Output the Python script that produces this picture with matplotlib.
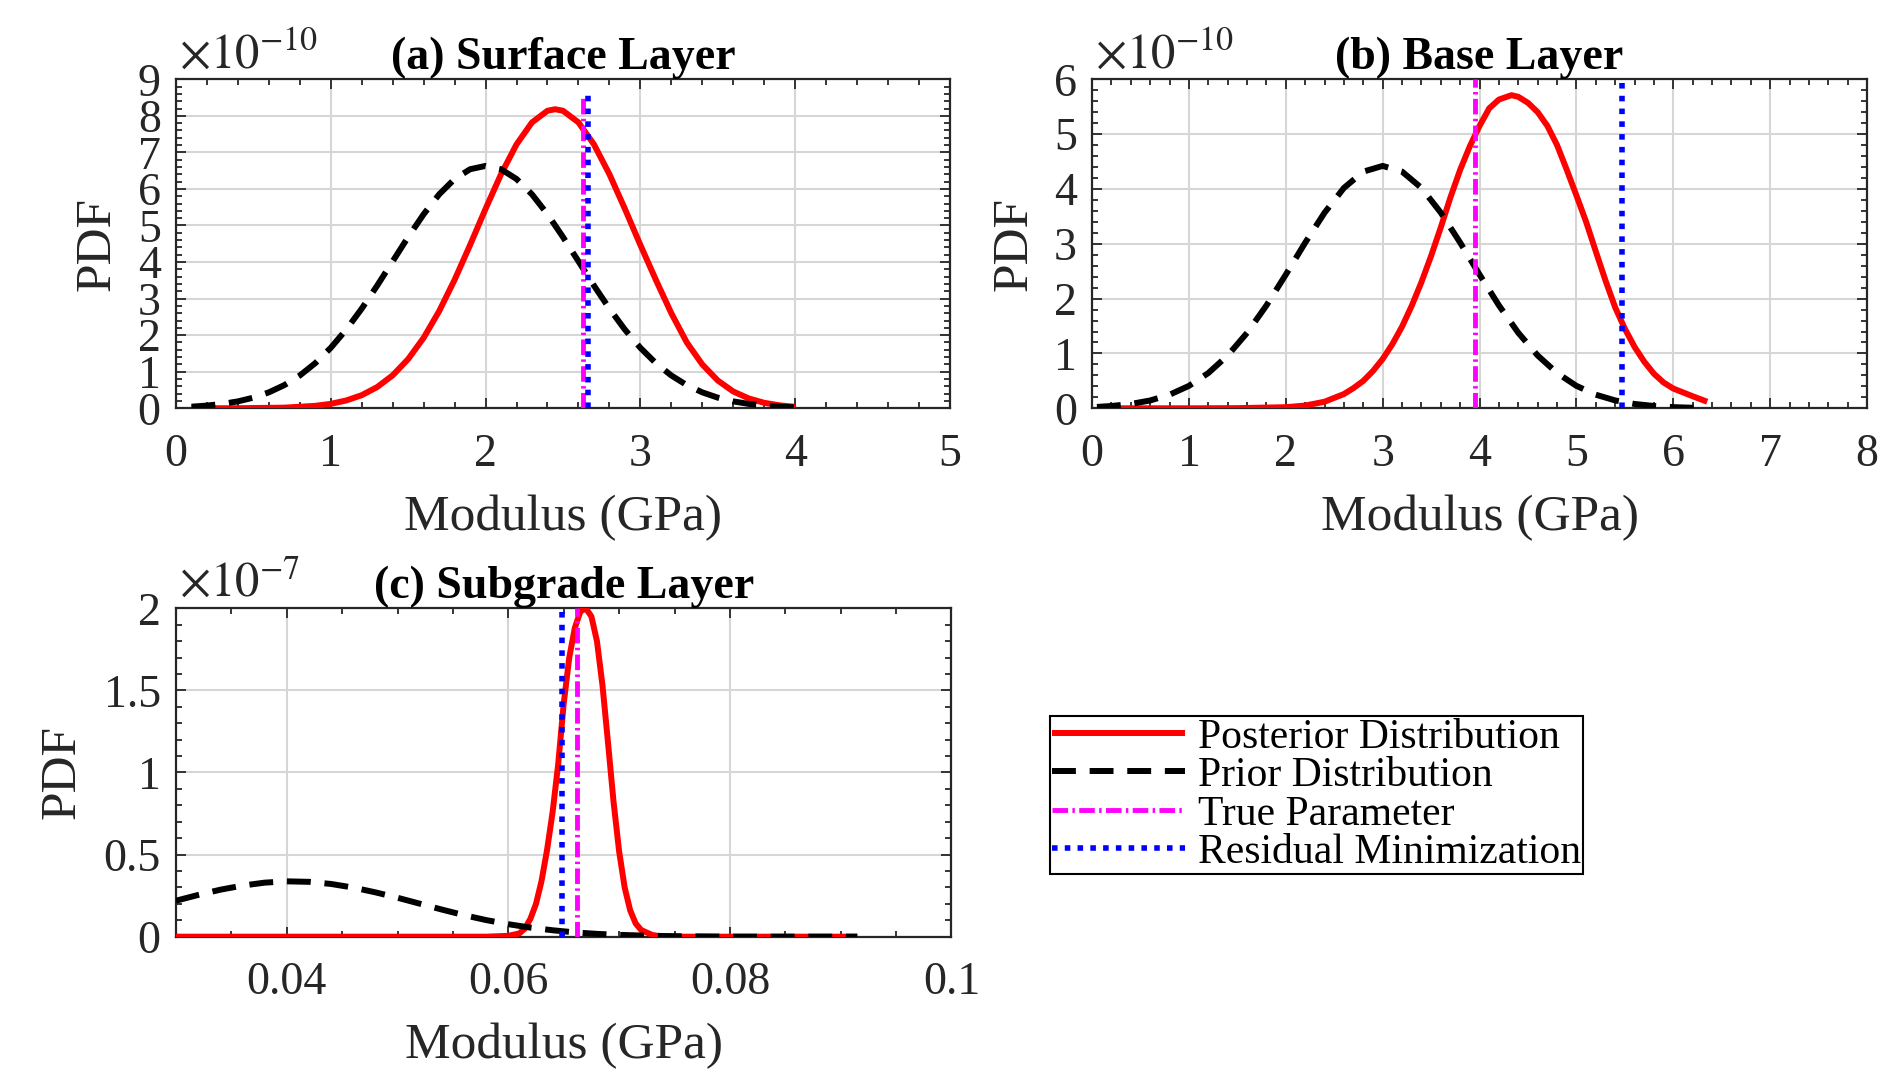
import matplotlib
matplotlib.use("Agg")
import matplotlib.pyplot as plt
from matplotlib.ticker import MultipleLocator, FixedLocator

plt.rcParams["font.family"] = ["Liberation Serif", "DejaVu Serif"]
plt.rcParams["mathtext.fontset"] = "stix"

# ---- (a) surface layer, PDF in units of 1e-10 ----
SURF_POST_X = [0.1, 0.4, 0.7, 0.9, 1.0, 1.1, 1.2, 1.3, 1.4, 1.5, 1.6, 1.7, 1.8, 1.9,
               2.0, 2.1, 2.2, 2.3, 2.4, 2.45, 2.5, 2.6, 2.7, 2.8, 2.9, 3.0, 3.1, 3.2,
               3.3, 3.4, 3.5, 3.6, 3.7, 3.8, 3.9, 4.0]
SURF_POST = [0.0, 0.002, 0.018, 0.067, 0.122, 0.214, 0.359, 0.581, 0.902, 1.346, 1.928,
             2.656, 3.514, 4.467, 5.456, 6.403, 7.219, 7.820, 8.139, 8.18, 8.139, 7.820,
             7.219, 6.403, 5.456, 4.467, 3.514, 2.600, 1.80, 1.20, 0.76, 0.46, 0.27,
             0.15, 0.08, 0.04]
SURF_PRIOR_X = [0.1, 0.2, 0.3, 0.4, 0.5, 0.6, 0.7, 0.8, 0.9, 1.0, 1.1, 1.2, 1.3, 1.4,
                1.5, 1.6, 1.7, 1.8, 1.9, 2.0, 2.1, 2.2, 2.3, 2.4, 2.5, 2.6, 2.7, 2.8,
                2.9, 3.0, 3.1, 3.2, 3.3, 3.4, 3.5, 3.6, 3.7, 3.8, 3.9, 4.0]
SURF_PRIOR = [0.044, 0.074, 0.120, 0.189, 0.291, 0.436, 0.634, 0.897, 1.235, 1.654,
              2.153, 2.726, 3.357, 4.021, 4.685, 5.309, 5.851, 6.272, 6.539, 6.63,
              6.539, 6.272, 5.851, 5.309, 4.685, 4.021, 3.357, 2.726, 2.153, 1.654,
              1.235, 0.897, 0.634, 0.436, 0.291, 0.189, 0.120, 0.074, 0.044, 0.026]
SURF_TRUE = 2.63
SURF_RESID = 2.66
SURF_LINE_TOP = 8.57

# ---- (b) base layer, PDF in units of 1e-10 ----
BASE_POST_X = [0.05, 0.5, 1.0, 1.5, 2.0, 2.2, 2.4, 2.6, 2.7, 2.8, 2.9, 3.0, 3.1, 3.2,
               3.3, 3.4, 3.5, 3.6, 3.7, 3.8, 3.9, 4.0, 4.1, 4.2, 4.33, 4.4, 4.5, 4.6,
               4.7, 4.8, 4.9, 5.0, 5.1, 5.2, 5.3, 5.4, 5.5, 5.6, 5.7, 5.8, 5.9, 6.0,
               6.1, 6.2, 6.35]
BASE_POST = [0.0, 0.0, 0.0, 0.003, 0.02, 0.05, 0.12, 0.26, 0.37, 0.50, 0.68, 0.90,
             1.17, 1.49, 1.87, 2.30, 2.78, 3.30, 3.85, 4.35, 4.78, 5.15, 5.47, 5.63,
             5.71, 5.68, 5.57, 5.40, 5.15, 4.80, 4.35, 3.88, 3.40, 2.86, 2.33, 1.84,
             1.45, 1.12, 0.85, 0.63, 0.47, 0.36, 0.29, 0.22, 0.12]
BASE_PRIOR_X = [0.05, 0.2, 0.4, 0.6, 0.8, 1.0, 1.2, 1.4, 1.6, 1.8, 2.0, 2.2, 2.4, 2.6,
                2.8, 3.0, 3.2, 3.4, 3.6, 3.8, 4.0, 4.2, 4.4, 4.6, 4.8, 5.0, 5.2, 5.4,
                5.6, 5.8, 6.0, 6.2, 6.3]
BASE_PRIOR = [0.025, 0.042, 0.079, 0.143, 0.248, 0.409, 0.643, 0.963, 1.376, 1.876,
              2.438, 3.020, 3.567, 4.019, 4.316, 4.42, 4.316, 4.019, 3.567, 3.020,
              2.438, 1.876, 1.376, 0.963, 0.643, 0.409, 0.248, 0.143, 0.079, 0.042,
              0.021, 0.010, 0.007]
BASE_TRUE = 3.95
BASE_RESID = 5.47
BASE_LINE_TOP = 6.0

# ---- (c) subgrade layer, PDF in units of 1e-7 ----
SUB_POST_X = [0.030, 0.040, 0.050, 0.058, 0.060, 0.061, 0.0615, 0.062, 0.0625, 0.063,
              0.0635, 0.064, 0.0645, 0.065, 0.0655, 0.066, 0.0665, 0.067, 0.0675,
              0.068, 0.0685, 0.069, 0.0695, 0.070, 0.0705, 0.071, 0.0715, 0.072,
              0.073, 0.074, 0.0915]
SUB_POST = [0.0, 0.0, 0.0, 0.0, 0.005, 0.02, 0.05, 0.11, 0.20, 0.34, 0.53, 0.76, 1.05,
            1.42, 1.70, 1.88, 1.98, 2.00, 1.95, 1.80, 1.53, 1.18, 0.82, 0.52, 0.30,
            0.16, 0.08, 0.04, 0.01, 0.0, 0.0]
SUB_PRIOR_X = [0.030, 0.032, 0.034, 0.036, 0.038, 0.040, 0.042, 0.044, 0.046, 0.048,
               0.050, 0.052, 0.054, 0.056, 0.058, 0.060, 0.062, 0.064, 0.066, 0.068,
               0.070, 0.072, 0.074, 0.076, 0.078, 0.080, 0.0915]
SUB_PRIOR = [0.219, 0.254, 0.286, 0.311, 0.329, 0.337, 0.334, 0.321, 0.299, 0.270,
             0.237, 0.201, 0.165, 0.131, 0.101, 0.076, 0.055, 0.039, 0.026, 0.017,
             0.011, 0.007, 0.004, 0.002, 0.001, 0.0, 0.0]
SUB_TRUE = 0.0662
SUB_RESID = 0.0648
SUB_LINE_TOP = 2.0

LABELS = ["Posterior Distribution", "Prior Distribution", "True Parameter",
          "Residual Minimization"]

DARK = "#262626"
TICK_FS = 33
LABEL_FS = 37


def draw_panel(ax, post_x, post, prior_x, prior, true_x, resid_x, line_top):
    ax.plot(post_x, post, color="red", lw=4.3, solid_capstyle="butt", zorder=3)
    ax.plot(prior_x, prior, color="black", lw=4.3, linestyle=(0, (4.0, 2.3)),
            dash_capstyle="butt", zorder=4)
    ax.plot([true_x, true_x], [0, line_top], color="magenta", lw=3.5,
            linestyle=(0, (3.2, 0.9, 0.5, 0.9)), zorder=5)
    ax.plot([resid_x, resid_x], [0, line_top], color="blue", lw=4.0,
            linestyle=(0, (1.0, 1.3)), zorder=6)


def style_axes(ax, title, exponent, ylabel_x):
    ax.grid(True, which="major", color="#d6d6d6", lw=1.5)
    ax.set_axisbelow(True)
    for sp in ax.spines.values():
        sp.set_color(DARK)
        sp.set_linewidth(1.6)
    ax.tick_params(which="both", direction="in", top=True, right=True,
                   color=DARK, labelcolor=DARK, labelsize=TICK_FS, width=1.3)
    ax.tick_params(which="major", length=7)
    ax.tick_params(which="minor", length=4.5)
    ax.tick_params(axis="x", pad=18)
    ax.tick_params(axis="y", pad=11)
    ax.set_title(title, fontsize=33, fontweight="bold", pad=4)
    ax.set_xlabel("Modulus (GPa)", fontsize=LABEL_FS, color=DARK)
    ax.set_ylabel("PDF", fontsize=LABEL_FS, color=DARK)
    ax.xaxis.set_label_coords(0.5, -0.262)
    ax.yaxis.set_label_coords(ylabel_x, 0.5)
    ax.annotate(r"$\times10^{%d}$" % exponent, xy=(0, 1), xycoords="axes fraction",
                xytext=(2, 8), textcoords="offset points", fontsize=35,
                color=DARK, ha="left", va="baseline")


fig = plt.figure(figsize=(18.8, 10.77), dpi=100)
ax_a = fig.add_axes([0.0936, 0.6209, 0.4117, 0.3055])
ax_b = fig.add_axes([0.5809, 0.6209, 0.4122, 0.3055])
ax_c = fig.add_axes([0.0936, 0.1303, 0.4125, 0.3049])

draw_panel(ax_a, SURF_POST_X, SURF_POST, SURF_PRIOR_X, SURF_PRIOR,
           SURF_TRUE, SURF_RESID, SURF_LINE_TOP)
ax_a.set_xlim(0, 5)
ax_a.set_ylim(0, 9)
ax_a.xaxis.set_major_locator(MultipleLocator(1))
ax_a.xaxis.set_minor_locator(MultipleLocator(0.2))
ax_a.yaxis.set_major_locator(MultipleLocator(1))
ax_a.yaxis.set_minor_locator(MultipleLocator(0.2))
style_axes(ax_a, "(a) Surface Layer", -10, -0.071)

draw_panel(ax_b, BASE_POST_X, BASE_POST, BASE_PRIOR_X, BASE_PRIOR,
           BASE_TRUE, BASE_RESID, BASE_LINE_TOP)
ax_b.set_xlim(0, 8)
ax_b.set_ylim(0, 6)
ax_b.xaxis.set_major_locator(MultipleLocator(1))
ax_b.xaxis.set_minor_locator(MultipleLocator(0.2))
ax_b.yaxis.set_major_locator(MultipleLocator(1))
ax_b.yaxis.set_minor_locator(MultipleLocator(0.2))
style_axes(ax_b, "(b) Base Layer", -10, -0.070)

draw_panel(ax_c, SUB_POST_X, SUB_POST, SUB_PRIOR_X, SUB_PRIOR,
           SUB_TRUE, SUB_RESID, SUB_LINE_TOP)
ax_c.set_xlim(0.03, 0.1)
ax_c.set_ylim(0, 2)
ax_c.xaxis.set_major_locator(FixedLocator([0.04, 0.06, 0.08, 0.1]))
ax_c.set_xticklabels(["0.04", "0.06", "0.08", "0.1"])
ax_c.xaxis.set_minor_locator(MultipleLocator(0.005))
ax_c.yaxis.set_major_locator(FixedLocator([0, 0.5, 1, 1.5, 2]))
ax_c.set_yticklabels(["0", "0.5", "1", "1.5", "2"])
ax_c.yaxis.set_minor_locator(MultipleLocator(0.1))
style_axes(ax_c, "(c) Subgrade Layer", -7, -0.117)

handles = ax_c.get_lines()[:4]
leg = fig.legend(handles, LABELS, loc="upper left", bbox_to_anchor=(0.5585, 0.3352),
                 fontsize=30, frameon=True, fancybox=False, edgecolor="black",
                 framealpha=1, borderpad=0.05, labelspacing=0.0, handlelength=3.2,
                 handletextpad=0.3, borderaxespad=0)
leg.get_frame().set_linewidth(1.5)

fig.savefig("out.png", dpi=100)
